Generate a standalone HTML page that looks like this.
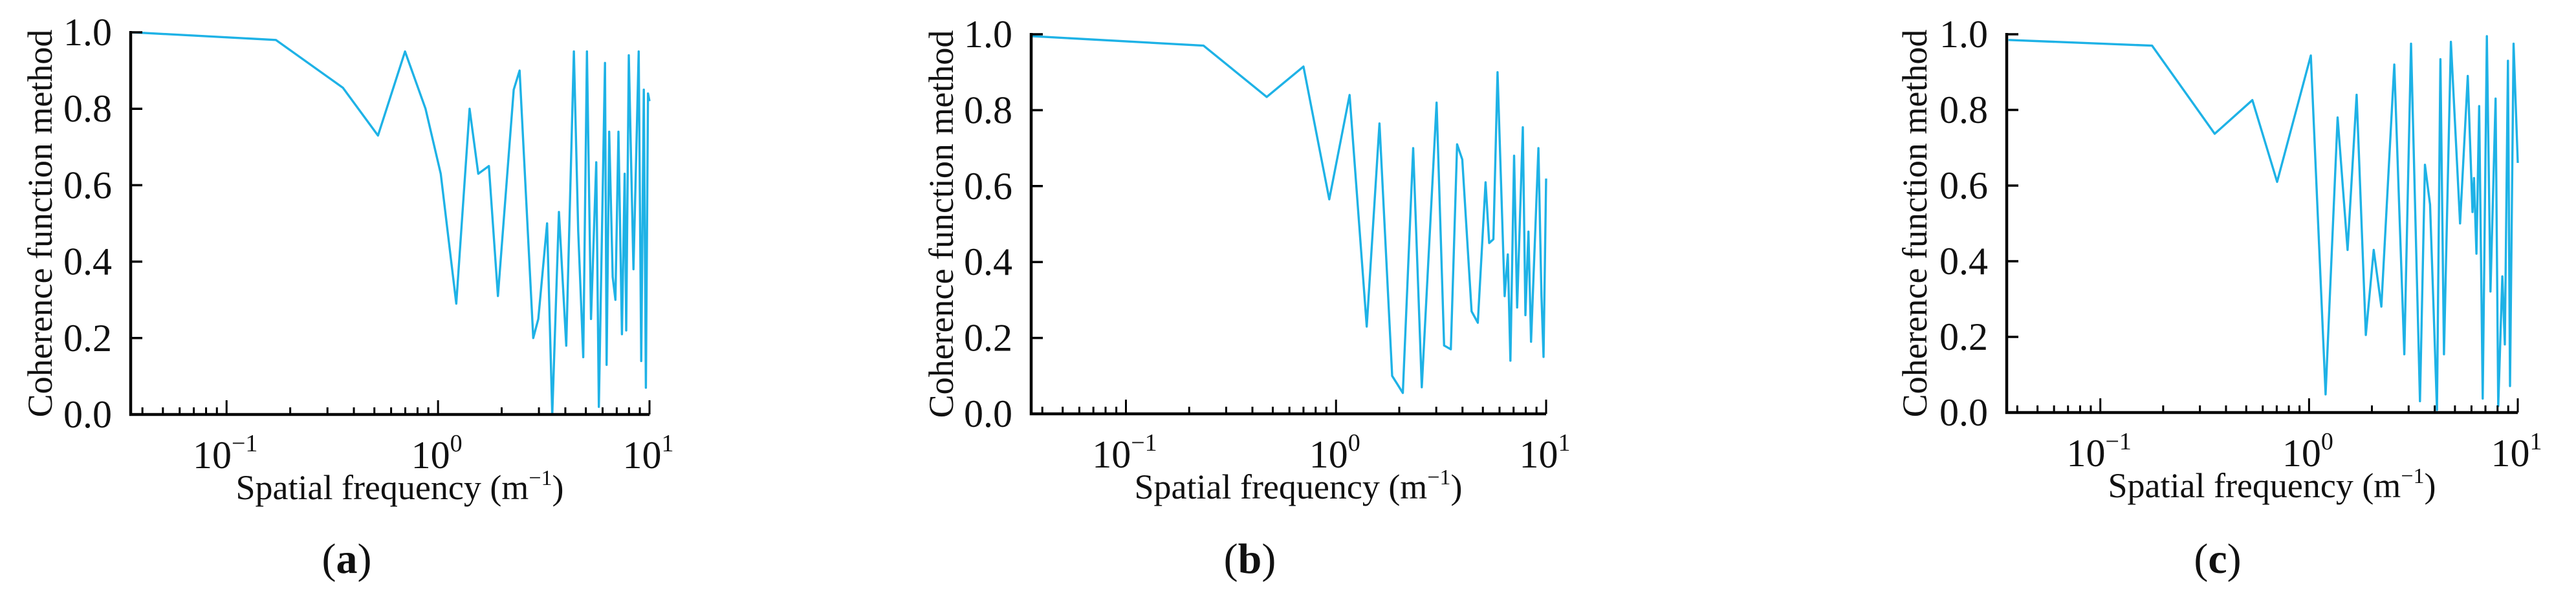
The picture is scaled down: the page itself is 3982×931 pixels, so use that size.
<!DOCTYPE html>
<html><head><meta charset="utf-8"><style>
html,body{margin:0;padding:0;background:#fff;}
svg{display:block;}
text{font-family:"Liberation Serif",serif;fill:#111;}
</style></head><body>
<svg id="fig" width="3982" height="931" viewBox="0 0 3982 931" xmlns="http://www.w3.org/2000/svg"></svg>
<script>
const yTicks = [0, 0.2, 0.4, 0.6, 0.8, 1.0];
const yTickLabels = ["0.0","0.2","0.4","0.6","0.8","1.0"];
const xDecades = [-1, 0, 1];
const xDecadeLabels = ["−1","0","1"];
const panelLabels = ["a","b","c"];

const freqA = [0.036,0.171,0.355,0.52,0.698,0.873,1.03,1.22,1.41,1.55,1.74,1.92,2.28,2.43,2.82,2.98,3.28,3.47,3.73,4.04,4.39,4.60,4.86,5.06,5.29,5.60,5.76,6.16,6.27,6.45,6.70,6.90,7.13,7.41,7.63,7.76,7.98,8.40,8.89,9.14,9.40,9.61,9.84,10.0];
const cohA = [1.0,0.98,0.855,0.73,0.95,0.80,0.63,0.29,0.80,0.63,0.65,0.31,0.85,0.90,0.20,0.25,0.50,0.0,0.53,0.18,0.95,0.48,0.15,0.95,0.25,0.66,0.02,0.92,0.13,0.74,0.36,0.30,0.74,0.21,0.63,0.22,0.94,0.38,0.95,0.14,0.85,0.07,0.84,0.82];
const freqB = [0.0357,0.234,0.468,0.700,0.929,1.16,1.40,1.61,1.85,2.08,2.33,2.56,3.01,3.27,3.52,3.77,3.99,4.42,4.73,5.15,5.36,5.61,5.87,6.35,6.57,6.76,7.04,7.28,7.75,7.97,8.24,8.48,9.19,9.50,9.72,10.0];
const cohB = [0.995,0.97,0.835,0.915,0.565,0.84,0.23,0.765,0.10,0.055,0.70,0.07,0.82,0.18,0.17,0.71,0.67,0.27,0.24,0.61,0.45,0.46,0.90,0.31,0.42,0.14,0.68,0.28,0.755,0.26,0.48,0.19,0.70,0.31,0.15,0.62];
const freqC = [0.0363,0.177,0.353,0.535,0.703,1.02,1.20,1.37,1.53,1.69,1.87,2.04,2.22,2.56,2.86,3.08,3.40,3.59,3.80,4.10,4.26,4.43,4.78,5.29,5.76,6.07,6.17,6.34,6.53,6.79,7.11,7.40,7.83,8.06,8.43,8.67,8.97,9.18,9.55,10.0];
const cohC = [0.985,0.97,0.737,0.826,0.61,0.944,0.048,0.78,0.43,0.84,0.205,0.43,0.28,0.92,0.154,0.975,0.03,0.655,0.55,0.007,0.934,0.154,0.98,0.50,0.89,0.53,0.62,0.42,0.81,0.037,0.995,0.32,0.83,0.017,0.36,0.18,0.93,0.07,0.975,0.66];

const NS = "http://www.w3.org/2000/svg";
const svg = document.getElementById("fig");
function mk(tag, attrs, parent){
  const e = document.createElementNS(NS, tag);
  for (const k in attrs) e.setAttribute(k, attrs[k]);
  (parent||svg).appendChild(e);
  return e;
}
const panels = [
  {x0:202, x1:1004, y0:641, y1:50, xmin:0.0352, xmax:10, f:freqA, v:cohA, lab:536, ytx:62},
  {x0:1594, x1:2390, y0:640, y1:53, xmin:0.0354, xmax:10, f:freqB, v:cohB, lab:1932, ytx:1455},
  {x0:3102, x1:3892, y0:638, y1:53, xmin:0.0356, xmax:10, f:freqC, v:cohC, lab:3428, ytx:2960}
];
panels.forEach((p, i) => {
  const g = mk("g", {});
  
  
  const lmin = Math.log10(p.xmin), lmax = Math.log10(p.xmax);
  const sx = f => p.x0 + (Math.log10(f) - lmin) / (lmax - lmin) * (p.x1 - p.x0);
  const sy = v => p.y0 + v * (p.y1 - p.y0);
  let d = "";
  p.f.forEach((f, k) => { d += (k ? "L" : "M") + sx(f).toFixed(1) + "," + sy(p.v[k]).toFixed(1); });
  const line = mk("path", {d: d, fill: "none", stroke: "#1eb2e6", "stroke-width": 3.4, "stroke-linejoin": "round"}, g);
  
  
  const ax = mk("path", {d: `M${p.x0},${p.y1-2}V${p.y0}H${p.x1}`, fill: "none", stroke: "#000", "stroke-width": 4.5}, g);
  
  
  yTicks.forEach((t, k) => {
    const y = sy(t);
    mk("line", {x1: p.x0, x2: p.x0 + 18, y1: y, y2: y, stroke: "#000", "stroke-width": 3.5}, g);
    const tx = mk("text", {x: p.x0 - 29, y: y + 20, "font-size": 60, "text-anchor": "end"}, g);
    tx.textContent = yTickLabels[k];
    
    
  });
  for (let dec = -2; dec <= 1; dec++) {
    for (let m = 1; m <= 9; m++) {
      const f = m * Math.pow(10, dec);
      if (f < p.xmin * 0.999 || f > p.xmax * 1.001) continue;
      const x = sx(f);
      const len = m === 1 ? 22 : 11;
      mk("line", {x1: x, x2: x, y1: p.y0, y2: p.y0 - len, stroke: "#000", "stroke-width": 3}, g);
    }
  }
  xDecades.forEach((dv, k) => {
    const x = sx(Math.pow(10, dv));
    const tx = mk("text", {x: x - 2, y: p.y0 + 83, "font-size": 60, "text-anchor": "middle"}, g);
    
    
    const t1 = mk("tspan", {}, tx); t1.textContent = "10";
    const t2 = mk("tspan", {dy: -26, "font-size": 38}, tx); t2.textContent = xDecadeLabels[k];
  });
  const xt = mk("text", {x: (p.x0 + p.x1) / 2 + 15, y: p.y0 + 131, "font-size": 54, "text-anchor": "middle"}, g);
  
  
  const a1 = mk("tspan", {}, xt); a1.textContent = "Spatial frequency (m";
  const a2 = mk("tspan", {dy: -22, "font-size": 34}, xt); a2.textContent = "−1";
  const a3 = mk("tspan", {dy: 22}, xt); a3.textContent = ")";
  const yt = mk("text", {x: 0, y: 0, "font-size": 54, "text-anchor": "middle", transform: `translate(${p.ytx + 18},${(p.y0 + p.y1) / 2}) rotate(-90)`}, g);
  yt.textContent = "Coherence function method";
  
  
  const pl = mk("text", {x: p.lab, y: 886, "font-size": 66, "text-anchor": "middle"}, g);
  
  
  const b1 = mk("tspan", {}, pl); b1.textContent = "(";
  const b2 = mk("tspan", {"font-weight": "bold"}, pl); b2.textContent = panelLabels[i];
  const b3 = mk("tspan", {}, pl); b3.textContent = ")";
});
</script>
</body></html>
